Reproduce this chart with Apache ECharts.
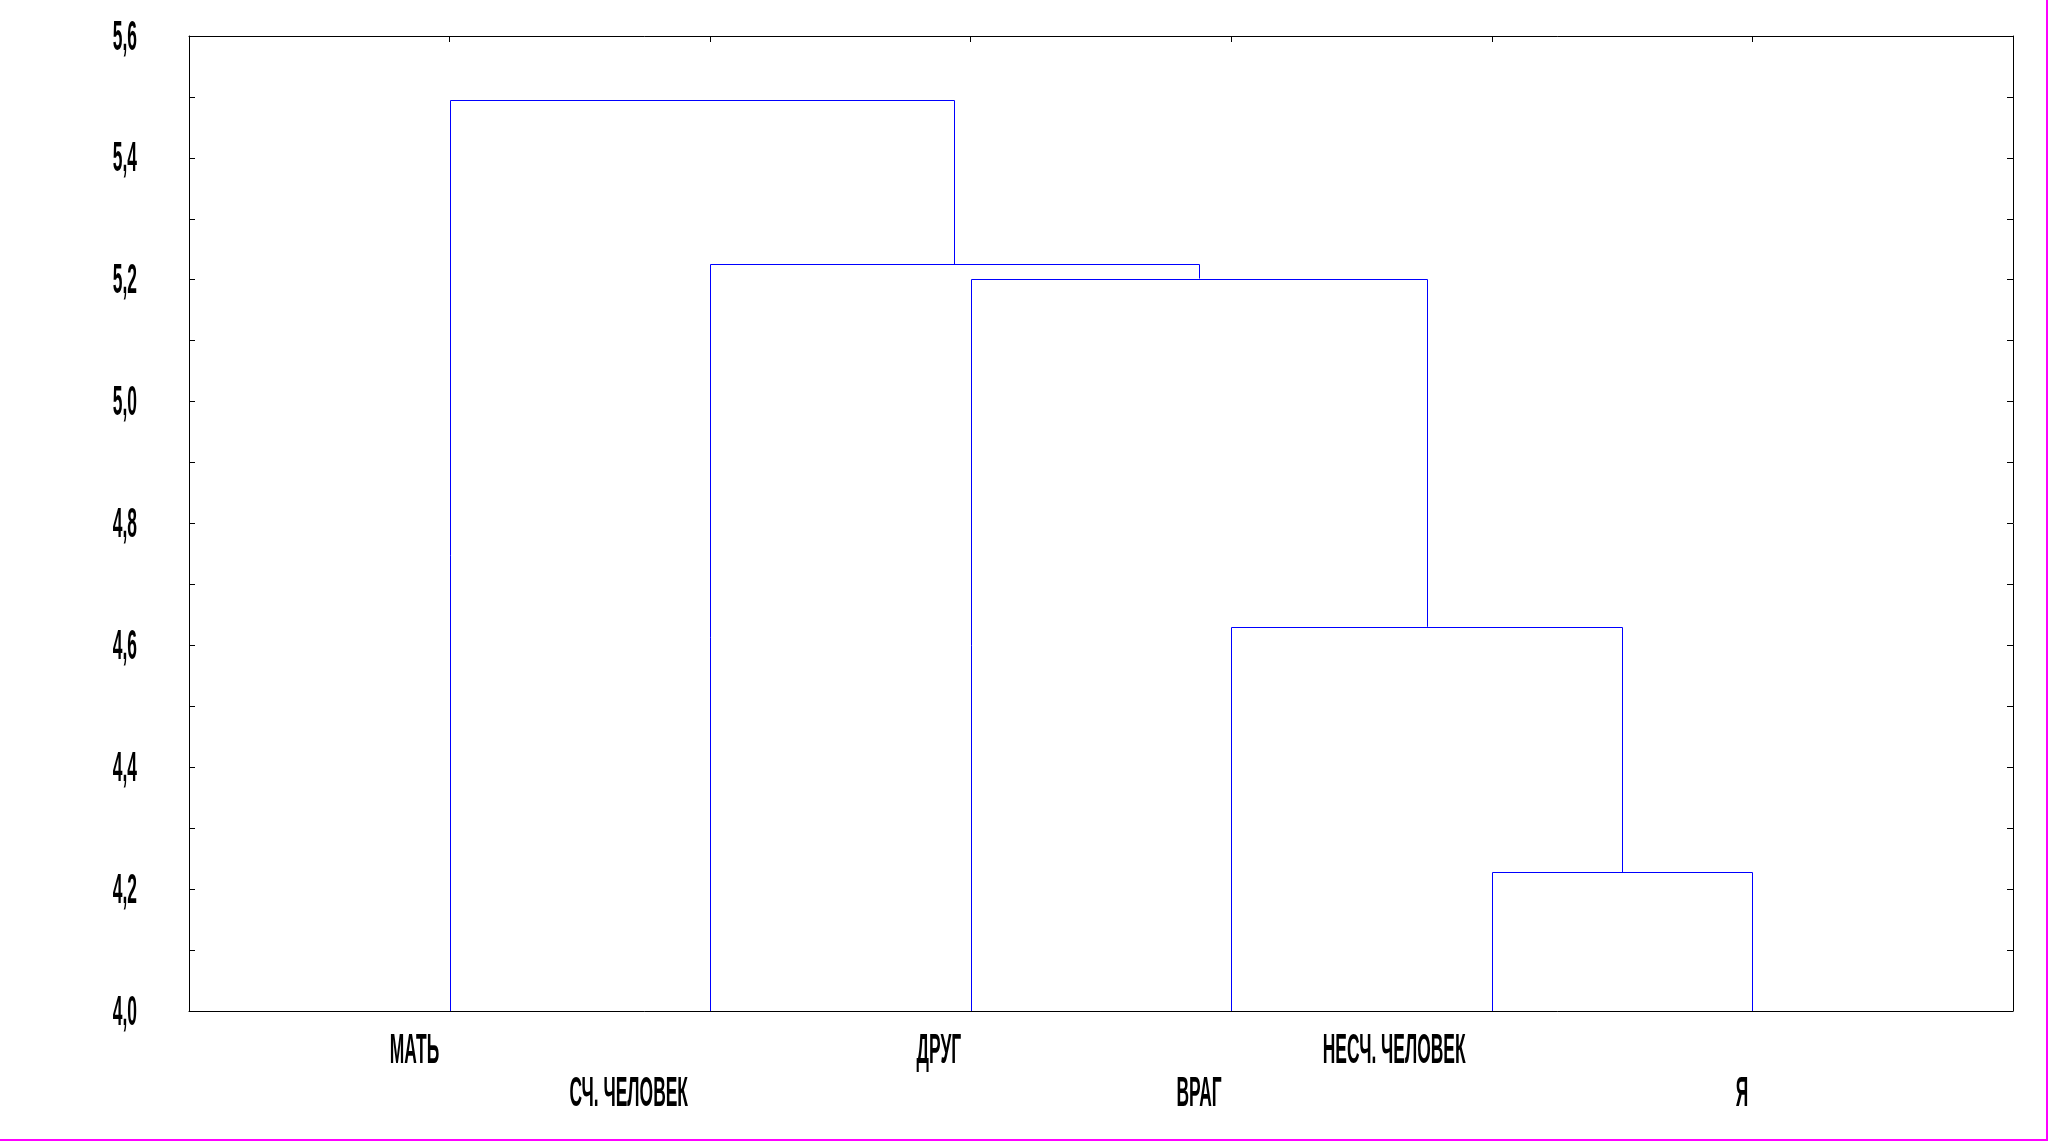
<!DOCTYPE html>
<html>
<head>
<meta charset="utf-8">
<script src="https://cdn.jsdelivr.net/npm/echarts@6/dist/echarts.min.js"></script>
<style>
html,body{margin:0;padding:0;background:#fff;}
#chart{width:2048px;height:1141px;}
</style>
</head>
<body>
<div id="chart"></div>
<script>
// ---- data ----
const leafLabels = ['МАТЬ', 'СЧ. ЧЕЛОВЕК', 'ДРУГ', 'ВРАГ', 'НЕСЧ. ЧЕЛОВЕК', 'Я'];
// linkage (scipy style: leaves 0..5, clusters 6..10)
const mergeLeft = [4, 3, 2, 1, 0];
const mergeRight = [5, 6, 7, 8, 9];
const mergeHeight = [4.228, 4.6305, 5.202, 5.2255, 5.4945];
const yTickValues = [4.0, 4.2, 4.4, 4.6, 4.8, 5.0, 5.2, 5.4, 5.6];
const yTickLabels = ['4,0', '4,2', '4,4', '4,6', '4,8', '5,0', '5,2', '5,4', '5,6'];

const yMin = 4.0, yMax = 5.6;

// build dendrogram segments
const nodePos = [], nodeH = [];
leafLabels.forEach((_, i) => { nodePos[i] = i + 1; nodeH[i] = yMin; });
const segData = [];
mergeHeight.forEach((h, k) => {
  const l = mergeLeft[k], r = mergeRight[k];
  segData.push([nodePos[l], nodeH[l], nodePos[r], nodeH[r], h]);
  const id = leafLabels.length + k;
  nodePos[id] = (nodePos[l] + nodePos[r]) / 2;
  nodeH[id] = h;
});
const leafData = leafLabels.map((name, i) => [i + 1, i % 2, name]);
const yLabelData = yTickValues.map((v, i) => [0, v, yTickLabels[i]]);

const FONT = 'bold 42px "Liberation Sans", Arial, sans-serif';
const SX = 0.415;
const mctx = document.createElement('canvas').getContext('2d');
mctx.font = FONT;
function textW(t) { return mctx.measureText(t).width * SX; }
const crisp = v => Math.round(v) + 0.5;

const axisCommon = {
  axisLine: { show: true, onZero: false, lineStyle: { color: '#000', width: 1 } },
  axisLabel: { show: false }, splitLine: { show: false }
};
const tickOn = { show: true, inside: true, length: 6, lineStyle: { color: '#000', width: 1 } };

const chart = echarts.init(document.getElementById('chart'), null, { renderer: 'canvas' });
chart.setOption({
  animation: false,
  backgroundColor: '#fff',
  grid: { left: 189, right: 35, top: 36, bottom: 130, show: false },
  xAxis: [
    Object.assign({ type: 'value', min: 0, max: 7, interval: 1, position: 'bottom', axisTick: { show: false } }, axisCommon),
    Object.assign({ type: 'value', min: 0, max: 7, interval: 1, position: 'top', axisTick: tickOn }, axisCommon)
  ],
  yAxis: [
    Object.assign({ type: 'value', min: yMin, max: yMax, interval: 0.1, position: 'left', axisTick: tickOn }, axisCommon),
    Object.assign({ type: 'value', min: yMin, max: yMax, interval: 0.1, position: 'right', axisTick: tickOn }, axisCommon)
  ],
  series: [
    {
      type: 'custom', xAxisIndex: 0, yAxisIndex: 0, clip: false,
      data: segData,
      renderItem: function (params, api) {
        const a = api.coord([api.value(0), api.value(1)]);
        const b = api.coord([api.value(0), api.value(4)]);
        const c = api.coord([api.value(2), api.value(4)]);
        const d = api.coord([api.value(2), api.value(3)]);
        return {
          type: 'polyline',
          shape: { points: [[crisp(a[0]), a[1]], [crisp(b[0]), crisp(b[1])], [crisp(c[0]), crisp(c[1])], [crisp(d[0]), d[1]]] },
          style: { stroke: '#0000ff', lineWidth: 1, fill: null }
        };
      }
    },
    {
      type: 'custom', xAxisIndex: 0, yAxisIndex: 0, clip: false,
      data: leafData,
      encode: { x: 0, y: 1 },
      renderItem: function (params, api) {
        const idx = params.dataIndex;
        const name = leafData[idx][2];
        const row = leafData[idx][1];
        const p = api.coord([api.value(0), yMin]);
        const w = textW(name);
        const right = p[0] - (0.17 * w + 2);
        return {
          type: 'text', x: right, y: p[1] + 40 + row * 43, scaleX: SX,
          style: { text: name, font: FONT, fill: '#000', textAlign: 'right', textVerticalAlign: 'middle' }
        };
      }
    },
    {
      type: 'custom', xAxisIndex: 0, yAxisIndex: 0, clip: false,
      data: yLabelData,
      encode: { x: 0, y: 1 },
      renderItem: function (params, api) {
        const idx = params.dataIndex;
        const p = api.coord([0, api.value(1)]);
        return {
          type: 'text', x: p[0] - 52, y: p[1] + 2, scaleX: SX,
          style: { text: yLabelData[idx][2], font: FONT, fill: '#000', textAlign: 'right', textVerticalAlign: 'middle' }
        };
      }
    }
  ],
  graphic: [
    { type: 'line', shape: { x1: 0, y1: 1140, x2: 2048, y2: 1140 }, style: { stroke: '#ff00ff', lineWidth: 2 } },
    { type: 'line', shape: { x1: 2047, y1: 0, x2: 2047, y2: 1141 }, style: { stroke: '#ff00ff', lineWidth: 2 } }
  ]
});
</script>
</body>
</html>
